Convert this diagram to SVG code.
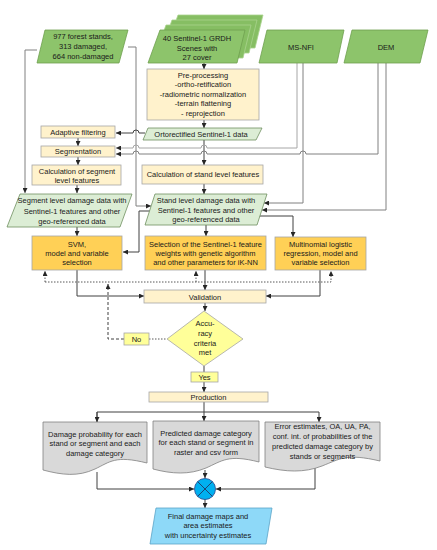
<svg xmlns="http://www.w3.org/2000/svg" width="437" height="550" viewBox="0 0 437 550">
<defs>
<marker id="ah" viewBox="0 0 10 10" refX="10" refY="5" markerWidth="5" markerHeight="5" markerUnits="userSpaceOnUse" orient="auto"><path d="M0,0 L10,5 L0,10 Z" fill="#262626"/></marker>
<style>
.t{font-family:"Liberation Sans",Arial,sans-serif;font-size:7.5px;fill:#1a1a1a;text-anchor:middle}
.g{fill:#8DC46B;stroke:#6F9F4F;stroke-width:0.8}
.gb{fill:#86BE63;stroke:#A9D38E;stroke-width:0.8}
.lg{fill:#DCEDD5;stroke:#6F8F60;stroke-width:0.8}
.cr{fill:#FFF2CC;stroke:#A6A6A6;stroke-width:0.8}
.or{fill:#FFD056;stroke:#A6A6A6;stroke-width:0.8}
.yl{fill:#FFFF99;stroke:#A6A6A6;stroke-width:0.8}
.doc{fill:#D9D9D9;stroke:#808080;stroke-width:0.8}
.c{fill:none;stroke:#404040;stroke-width:1}
.cg{fill:none;stroke:#808080;stroke-width:1}
.cl{fill:none;stroke:#A6A6A6;stroke-width:1}
.d{fill:none;stroke:#595959;stroke-width:1;stroke-dasharray:1.5 1.5}
.dd{fill:none;stroke:#404040;stroke-width:1;stroke-dasharray:3 2}
</style>
</defs>
<rect width="437" height="550" fill="#ffffff"/>

<g id="connectors">
<path class="c" d="M204,63 V69" marker-end="url(#ah)"/>
<path class="c" d="M204,120 V128" marker-end="url(#ah)"/>
<path class="c" d="M204,140 V165" marker-end="url(#ah)"/>
<path class="c" d="M204,184 V194" marker-end="url(#ah)"/>
<path class="c" d="M206,225 V236" marker-end="url(#ah)"/>
<path class="c" d="M205,270 V290" marker-end="url(#ah)"/>
<path class="c" d="M205,303 V311" marker-end="url(#ah)"/>
<path class="c" d="M204,366 V372"/>
<path class="c" d="M204,382 V392" marker-end="url(#ah)"/>
<path class="c" d="M204,402 V421" marker-end="url(#ah)"/>
<path class="c" d="M97,422 V412 H319 V422" marker-end="url(#ah)"/>
<path class="c" d="M97,412 V422" marker-end="url(#ah)"/>
<path class="c" d="M97,472 V489 H194" marker-end="url(#ah)"/>
<path class="c" d="M315,466 V489 H216" marker-end="url(#ah)"/>
<path class="c" d="M205,470 V478" marker-end="url(#ah)"/>
<path class="c" d="M205,499 V508" marker-end="url(#ah)"/>
<path class="c" d="M78,138 V146" marker-end="url(#ah)"/>
<path class="c" d="M78,157 V165" marker-end="url(#ah)"/>
<path class="c" d="M77,185 V193" marker-end="url(#ah)"/>
<path class="c" d="M77,227 V236" marker-end="url(#ah)"/>
<path class="c" d="M77,270 V296 H144" marker-end="url(#ah)"/>
<path class="c" d="M320,270 V296 H266" marker-end="url(#ah)"/>
<path class="c" d="M258,216 H293 V237" marker-end="url(#ah)"/>
<path class="cg" d="M37,50 H25 V193" marker-end="url(#ah)"/>
<path class="cg" d="M128,47 H136 V206 H151" marker-end="url(#ah)"/>
<path class="c" d="M150,211 H139 V252 H123" marker-end="url(#ah)"/>
<path class="c" d="M145,133 H139 A3,3 0 0 0 133,133 H116" marker-end="url(#ah)"/>
<path class="cl" d="M297,63 V148 H207 A3,3 0 0 0 201,148 H139 A3,3 0 0 0 133,148 H116" marker-end="url(#ah)"/>
<path class="cg" d="M378,63 V154 H306 A3,3 0 0 0 300,154 H207 A3,3 0 0 0 201,154 H139 A3,3 0 0 0 133,154 H116" marker-end="url(#ah)"/>
<path class="cg" d="M303,63 V203 H264" marker-end="url(#ah)"/>
<path class="cg" d="M386,63 V210 H262" marker-end="url(#ah)"/>
<path class="d" d="M45,282 H331 V271" marker-end="url(#ah)"/>
<path class="d" d="M45,282 V271" marker-end="url(#ah)"/>
<path class="d" d="M196,282 V271" marker-end="url(#ah)"/>
<path class="dd" d="M124,339 H108 V284" marker-end="url(#ah)"/>
<path class="d" d="M149,339 H167"/>
</g>

<g id="forest-stands">
<path class="g" d="M45,30 H128 L119,63 H37 Z"/>
<text class="t" x="83" y="39.2">977 forest stands,</text>
<text class="t" x="83" y="49.2">313  damaged,</text>
<text class="t" x="83" y="59.2">664 non-damaged</text>
</g>

<g id="sentinel-scenes">
<path class="gb" d="M178,15 H263 L255,48 H166 Z"/>
<path class="gb" d="M172,20 H257 L249,53 H160 Z"/>
<path class="gb" d="M166,25 H251 L243,58 H154 Z"/>
<path class="g" d="M160,30 H245 L237,63 H148 Z"/>
<text class="t" x="197" y="41">40 Sentinel-1 GRDH</text>
<text class="t" x="197" y="50.5">Scenes with</text>
<text class="t" x="197" y="60">27 cover</text>
</g>

<g id="ms-nfi">
<path class="g" d="M267,30 H344 L337,63 H259 Z"/>
<text class="t" x="301" y="49.5">MS-NFI</text>
</g>

<g id="dem">
<path class="g" d="M352,30 H428 L420,63 H344 Z"/>
<text class="t" x="386" y="49.5">DEM</text>
</g>

<g id="pre-processing">
<rect class="cr" x="147" y="69" width="112" height="51"/>
<text class="t" x="203" y="77.7">Pre-processing</text>
<text class="t" x="203" y="87">-ortho-retification</text>
<text class="t" x="203" y="96.5">-radiometric normalization</text>
<text class="t" x="203" y="106">-terrain flattening</text>
<text class="t" x="203" y="115.5">- reprojection</text>
</g>

<g id="ortorectified">
<path class="lg" d="M148,128 H262 L256,140 H143 Z"/>
<text class="t" x="201" y="136.8">Ortorectified Sentinel-1 data</text>
</g>

<g id="adaptive-filtering">
<rect class="cr" x="41" y="126" width="74" height="12"/>
<text class="t" x="78" y="134.7">Adaptive filtering</text>
</g>

<g id="segmentation">
<rect class="cr" x="41" y="146" width="74" height="11"/>
<text class="t" x="78" y="154.3">Segmentation</text>
</g>

<g id="segment-features">
<rect class="cr" x="32" y="165" width="89" height="20"/>
<text class="t" x="77" y="173.5">Calculation of segment</text>
<text class="t" x="77" y="182.5">level features</text>
</g>

<g id="stand-features">
<rect class="cr" x="142" y="165" width="121" height="19"/>
<text class="t" x="203" y="177">Calculation of stand level features</text>
</g>

<g id="segment-data">
<path class="lg" d="M20,194 H132 L120,227 H7 Z"/>
<text class="t" x="72" y="203">Segment level damage data with</text>
<text class="t" x="72" y="213.5">Sentinel-1 features and other</text>
<text class="t" x="72" y="224">geo-referenced data</text>
</g>

<g id="stand-data">
<path class="lg" d="M155,194 H267 L257,225 H145 Z"/>
<text class="t" x="206" y="203.2">Stand level damage data with</text>
<text class="t" x="206" y="212.7">Sentinel-1 features and other</text>
<text class="t" x="206" y="222.2">geo-referenced data</text>
</g>

<g id="svm">
<rect class="or" x="32" y="236" width="90" height="34"/>
<text class="t" x="77" y="246.7">SVM,</text>
<text class="t" x="77" y="256.2">model and variable</text>
<text class="t" x="77" y="265.2">selection</text>
</g>

<g id="selection">
<rect class="or" x="145" y="236" width="121" height="34"/>
<text class="t" x="205.5" y="246.7">Selection of the Sentinel-1 feature</text>
<text class="t" x="205.5" y="255.7">weights with  genetic algorithm</text>
<text class="t" x="205.5" y="264.7">and other parameters for  iK-NN</text>
</g>

<g id="multinomial">
<rect class="or" x="275" y="237" width="91" height="33"/>
<text class="t" x="320.5" y="246.7">Multinomial logistic</text>
<text class="t" x="320.5" y="256.2">regression, model and</text>
<text class="t" x="320.5" y="265.2">variable selection</text>
</g>

<g id="validation">
<rect class="cr" x="144" y="290" width="122" height="13"/>
<text class="t" x="205" y="299.7">Validation</text>
</g>

<g id="accuracy">
<path class="yl" d="M204,311 L243,339 L204,366 L167,339 Z"/>
<text class="t" x="205" y="325.7">Accu-</text>
<text class="t" x="205" y="335.7">racy</text>
<text class="t" x="205" y="345.7">criteria</text>
<text class="t" x="205" y="354.7">met</text>
</g>

<g id="no">
<rect class="yl" x="124" y="333" width="25" height="12"/>
<text class="t" x="136.5" y="341.7">No</text>
</g>

<g id="yes">
<rect class="yl" x="191" y="372" width="27" height="10"/>
<text class="t" x="204.5" y="379.7">Yes</text>
</g>

<g id="production">
<rect class="cr" x="149" y="392" width="119" height="10"/>
<text class="t" x="208.5" y="399.7">Production</text>
</g>

<g id="damage-probability">
<path class="doc" d="M43,422 H147 V463 C115,455 110,462 95,469 C78,477 62,475 43,470 Z"/>
<text class="t" x="95" y="436.7">Damage probability  for each</text>
<text class="t" x="95" y="446.2">stand or segment and each</text>
<text class="t" x="95" y="455.7">damage category</text>
</g>

<g id="predicted-category">
<path class="doc" d="M153,421 H259 V462 C228,454 222,461 206,468 C189,475 172,474 153,469 Z"/>
<text class="t" x="206" y="435.7">Predicted damage  category</text>
<text class="t" x="206" y="445.2">for each stand or segment  in</text>
<text class="t" x="206" y="454.7">raster and csv form</text>
</g>

<g id="error-estimates">
<path class="doc" d="M265,422 H380 V461 C346,453 340,459 322,466 C304,473 286,472 265,467 Z"/>
<text class="t" x="322.5" y="428.7">Error estimates,  OA, UA, PA,</text>
<text class="t" x="322.5" y="438.7">conf. int. of probabilities of the</text>
<text class="t" x="322.5" y="448.7">predicted damage category by</text>
<text class="t" x="322.5" y="458.7">stands or segments</text>
</g>

<g id="merge">
<circle cx="205" cy="489" r="10.5" fill="#00B0F0" stroke="#2F5597" stroke-width="0.9"/>
<path d="M197.6,481.6 L212.4,496.4 M212.4,481.6 L197.6,496.4" stroke="#1F3864" stroke-width="0.9" fill="none"/>
</g>

<g id="final">
<path fill="#8ED9F8" stroke="#5BA3C7" stroke-width="0.8" d="M156,508 H272 L266,544 H150 Z"/>
<text class="t" x="208" y="518.7">Final damage maps and</text>
<text class="t" x="208" y="528.2">area estimates</text>
<text class="t" x="208" y="537.7">with uncertainty estimates</text>
</g>
</svg>
